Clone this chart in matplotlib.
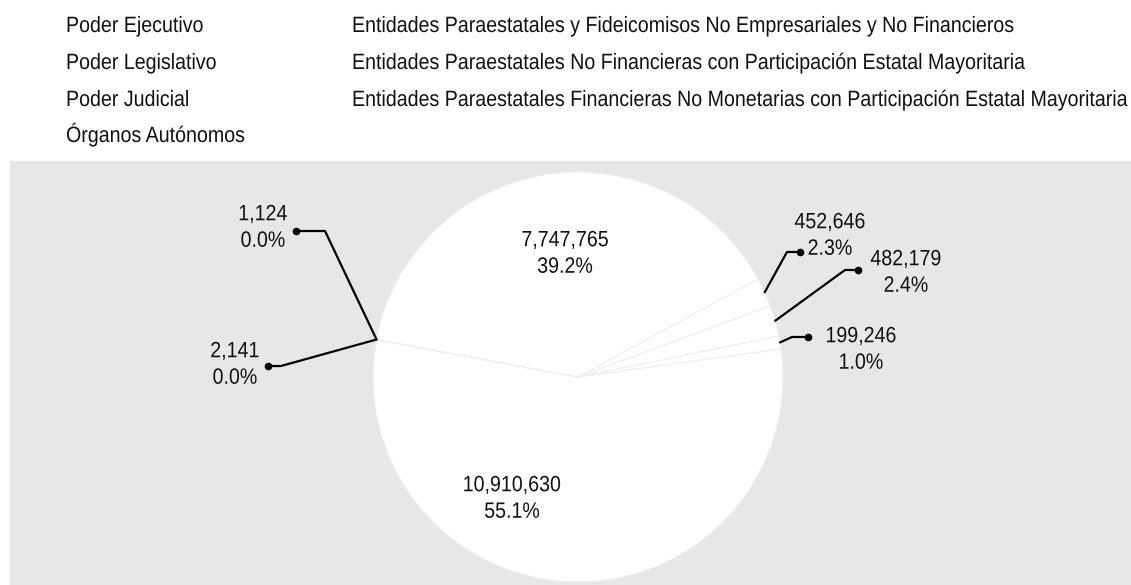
import numpy as np
import matplotlib.pyplot as plt
from matplotlib.patheffects import AbstractPathEffect
from matplotlib.transforms import Affine2D

plt.rcParams['font.family'] = ['Liberation Sans', 'DejaVu Sans']

names = ['Poder Ejecutivo', 'Poder Legislativo', 'Poder Judicial', 'Órganos Autónomos',
         'Entidades Paraestatales y Fideicomisos No Empresariales y No Financieros',
         'Entidades Paraestatales No Financieras con Participación Estatal Mayoritaria',
         'Entidades Paraestatales Financieras No Monetarias con Participación Estatal Mayoritaria']
values = [10910630, 2141, 1124, 7747765, 452646, 482179, 199246]
# percentages as printed on the chart
pcts = [55.1, 0.0, 0.0, 39.2, 2.3, 2.4, 1.0]


class Stretch(AbstractPathEffect):
    # makes glyphs a bit taller (the original font is a condensed Arial look)
    def __init__(self, sy):
        super().__init__()
        self.sy = sy

    def draw_path(self, renderer, gc, tpath, affine, rgbFace=None):
        renderer.draw_path(gc, tpath, Affine2D().scale(1, self.sy) + affine, rgbFace)


W, H = 1131, 585
fig = plt.figure(figsize=(W / 100, H / 100), dpi=100)
FS = 14.13
txt = dict(fontsize=FS, color='#111111', path_effects=[Stretch(1.13)])

# gray plot area, data units == pixels (y up)
box_l, box_t = 10, 161
ax = fig.add_axes([box_l / W, 0, (W - box_l) / W, (H - box_t) / H])

cx, cy, R = 578, H - 377, 205
wedges, _ = ax.pie(values, colors=['white'] * len(values), startangle=7.9, counterclock=False,
                   center=(cx, cy), radius=R,
                   wedgeprops=dict(edgecolor='#f1eded', linewidth=0.8))
ax.set_xlim(box_l, W)
ax.set_ylim(0, H - box_t)
ax.set_frame_on(True)
for s in ax.spines.values():
    s.set_visible(False)
ax.set_facecolor('#e6e7e9')
ax.set_xticks([])
ax.set_yticks([])

labels = ['{:,}\n{:.1f}%'.format(v, p) for v, p in zip(values, pcts)]

def px(x, y):
    return x, H - y

# inside labels: (text center)
inside = {0: (512, 499), 3: (565, 254)}
# outside labels: elbow, dot, text center
outside = {1: ((281, 366), (268, 366), (235, 365)),
           2: ((325, 231), (296, 231), (263, 228)),
           4: ((787, 252), (800, 252), (830, 236)),
           5: ((845, 270), (858, 270), (906, 273)),
           6: ((792, 337), (808, 337), (861, 350))}

for i, w in enumerate(wedges):
    if i in inside:
        ax.text(*px(*inside[i]), labels[i], ha='center', va='center',
                linespacing=1.5, **txt)
    else:
        mid = np.deg2rad((w.theta1 + w.theta2) / 2)
        ex, ey = cx + R * np.cos(mid), cy + R * np.sin(mid)
        elbow, dot, tc = outside[i]
        xs = [ex, px(*elbow)[0], px(*dot)[0]]
        ys = [ey, px(*elbow)[1], px(*dot)[1]]
        ax.plot(xs, ys, color='black', lw=1.6, solid_capstyle='round')
        ax.plot(*px(*dot), 'o', color='black', ms=4.5)
        ax.text(*px(*tc), labels[i], ha='center', va='center',
                linespacing=1.5, **txt)

# legend (text only)
col_x = [66, 352]
row_y = [32, 69, 106, 142]
for i, n in enumerate(names):
    c = 0 if i < 4 else 1
    r = i if i < 4 else i - 4
    fig.text(col_x[c] / W, 1 - row_y[r] / H, n, ha='left', va='baseline', **txt)

fig.savefig('out.png', dpi=100)
